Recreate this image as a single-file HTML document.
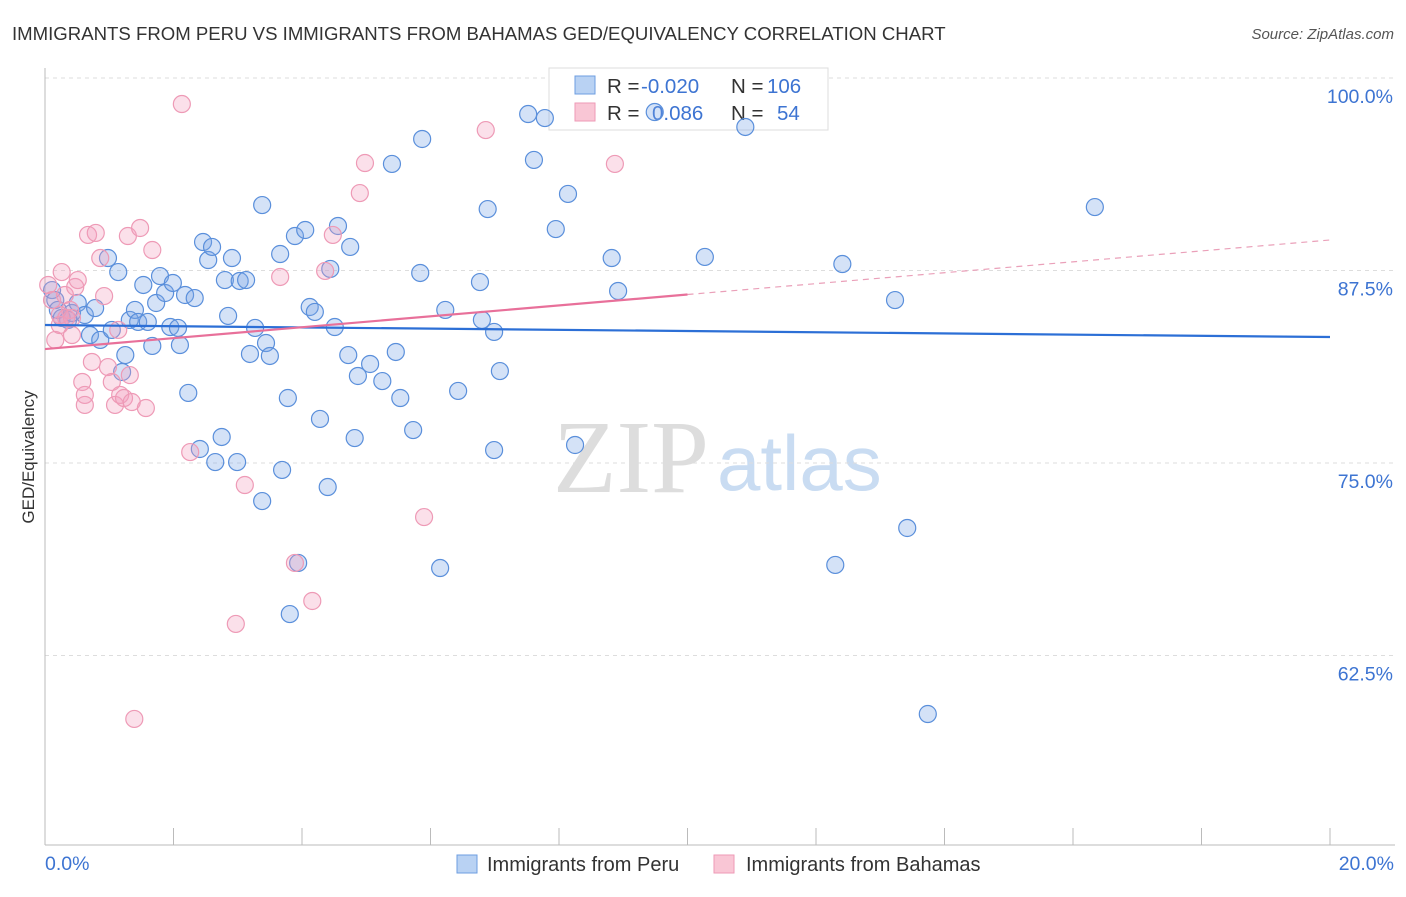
<!DOCTYPE html>
<html><head><meta charset="utf-8"><style>
body{margin:0;background:#fff;font-family:"Liberation Sans",sans-serif}
</style></head><body>
<svg id="chart" width="1406" height="892" xmlns="http://www.w3.org/2000/svg" font-family="Liberation Sans, sans-serif">
<text x="12" y="40" font-size="18.6" fill="#333">IMMIGRANTS FROM PERU VS IMMIGRANTS FROM BAHAMAS GED/EQUIVALENCY CORRELATION CHART</text>
<text x="1394" y="39" font-size="15" fill="#555" text-anchor="end" font-style="italic">Source: ZipAtlas.com</text>
<g>
<text x="553" y="492" font-size="104" fill="#ddd" font-family="Liberation Serif, serif">ZIP</text>
<text x="717" y="490" font-size="78" fill="#c9dcf2">atlas</text>
</g>
<g id="grid"></g>
<g id="axes"></g>
<g>
<rect x="549" y="68" width="279" height="62" fill="#fff" stroke="#ddd"/>
<rect x="575" y="76" width="20" height="18" fill="#b9d2f3" stroke="#6d9ee0"/>
<rect x="575" y="103" width="20" height="18" fill="#f9c6d5" stroke="#ee9ab6"/>
<text x="607" y="93" font-size="20.5" fill="#333">R = <tspan fill="#3d74d2" x="641">-0.020</tspan></text>
<text x="731" y="93" font-size="20.5" fill="#333">N = <tspan fill="#3d74d2" x="767">106</tspan></text>
<text x="607" y="120" font-size="20.5" fill="#333">R = <tspan fill="#3d74d2" x="652">0.086</tspan></text>
<text x="731" y="120" font-size="20.5" fill="#333">N = <tspan fill="#3d74d2" x="777">54</tspan></text>
</g>
<g id="marks"></g>
<text transform="translate(34,457) rotate(-90)" font-size="17" fill="#333" text-anchor="middle">GED/Equivalency</text>
<g>
<rect x="457" y="855" width="20" height="18" fill="#b9d2f3" stroke="#6d9ee0"/>
<text x="487" y="871" font-size="20" fill="#333">Immigrants from Peru</text>
<rect x="714" y="855" width="20" height="18" fill="#f9c6d5" stroke="#ee9ab6"/>
<text x="746" y="871" font-size="20" fill="#333">Immigrants from Bahamas</text>
</g>
</svg>
<script>
const yTicks=[100,87.5,75,62.5];
const yTickLabels=["100.0%","87.5%","75.0%","62.5%"];
const xTickLabels=["0.0%","20.0%"];
const peruX=[.11,.16,.20,.26,.36,.42,.51,.62,.70,.78,.86,.98,1.04,1.14,1.20,1.25,1.32,1.40,1.45,1.53,1.60,1.67,1.73,1.79,1.87,1.95,1.99,2.07,2.10,2.18,2.23,2.33,2.41,2.46,2.54,2.60,2.65,2.75,2.80,2.85,2.91,2.99,3.03,3.13,3.19,3.27,3.38,3.38,3.44,3.50,3.66,3.69,3.78,3.81,3.89,3.94,4.05,4.12,4.20,4.28,4.40,4.44,4.56,4.51,4.72,4.75,4.82,4.87,5.06,5.25,5.40,5.46,5.53,5.73,5.84,5.87,6.15,6.23,6.43,6.77,6.80,6.89,6.99,6.99,7.08,7.52,7.61,7.78,7.95,8.14,8.25,8.82,8.92,9.49,10.27,10.90,12.30,12.41,13.23,13.42,13.74,16.34];
const peruY=[86.23,85.58,84.94,84.42,84.29,84.74,85.39,84.61,83.31,85.06,82.99,88.31,83.64,87.40,80.91,82.01,84.29,84.94,84.16,86.56,84.16,82.60,85.39,87.14,86.04,83.83,86.69,83.77,82.66,85.91,79.55,85.71,75.91,89.35,88.18,89.03,75.06,76.69,86.88,84.55,88.31,75.06,86.82,86.88,82.08,83.77,72.53,91.75,82.79,81.95,88.57,74.55,79.22,65.19,89.74,68.51,90.13,85.13,84.81,77.86,73.44,87.60,90.39,83.83,82.01,89.03,76.62,80.65,81.43,80.32,94.42,82.21,79.22,77.14,87.34,96.04,68.18,84.94,79.68,86.75,84.29,91.49,75.84,83.51,80.97,97.66,94.68,97.40,90.19,92.47,76.17,88.31,86.17,97.79,88.38,96.82,68.38,87.92,85.58,70.78,58.70,91.62];
const bahX=[.05,.11,.16,.23,.26,.31,.39,.42,.47,.51,.58,.62,.62,.67,.73,.79,.86,.92,.98,1.04,1.09,1.14,1.17,1.23,1.29,1.32,1.35,1.48,1.57,1.67,2.13,2.26,2.97,3.11,3.66,3.89,4.16,4.36,4.48,4.90,4.98,5.90,6.86,8.87,1.39,.23,.33,.42];
const bahY=[86.56,85.58,82.99,83.96,87.40,85.91,84.94,83.31,86.43,86.88,80.26,79.42,78.77,89.81,81.56,89.94,88.31,85.84,81.23,80.26,78.77,83.64,79.42,79.22,89.74,80.71,78.96,90.26,78.57,88.83,98.31,75.71,64.55,73.57,87.08,68.51,66.04,87.47,89.81,92.53,94.48,71.49,96.62,94.42,58.38,84.61,84.42,84.42];
const peruTrend=[83.96,83.18];
const bahTrend=[82.40,89.48];
const bahSolidEnd=10;
const NS="http://www.w3.org/2000/svg";
const X=v=>45+v/20*1285;
const Y=v=>78+(100-v)/12.5*192.5;
function mk(tag,attrs,parent){const e=document.createElementNS(NS,tag);for(const k in attrs)e.setAttribute(k,attrs[k]);document.getElementById(parent).appendChild(e);return e;}
yTicks.forEach((t,i)=>{
 const g=mk('line',{x1:45,x2:1395,y1:Y(t),y2:Y(t),stroke:'#ddd','stroke-dasharray':'4,4'},'grid');
 
 
 const l=mk('text',{x:1393,y:Y(t)+25,'text-anchor':'end','font-size':19.5,fill:'#3d74d2'},'axes');
 l.textContent=yTickLabels[i];
 
 
});
const ya=mk('line',{x1:45,x2:45,y1:68,y2:845,stroke:'#bbb'},'axes');


const xa=mk('line',{x1:45,x2:1395,y1:845,y2:845,stroke:'#bbb'},'axes');


for(let i=0;i<=20;i+=2){
 const t=mk('line',{x1:X(i),x2:X(i),y1:828,y2:845,stroke:'#bbb'},'axes');
 
 
}
[[0,'start',45],[20,'end',1394]].forEach((d,i)=>{
 const l=mk('text',{x:d[2],y:870,'text-anchor':d[1],'font-size':19.5,fill:'#3d74d2'},'axes');
 l.textContent=xTickLabels[i];
 
 
});
peruX.forEach((x,i)=>{
 const c=mk('circle',{cx:X(x),cy:Y(peruY[i]),r:8.5,fill:'rgba(120,165,230,0.32)',stroke:'#5a8fdb','stroke-width':1.2},'marks');
 
 
});
bahX.forEach((x,i)=>{
 const c=mk('circle',{cx:X(x),cy:Y(bahY[i]),r:8.5,fill:'rgba(244,160,190,0.32)',stroke:'#ee9ab6','stroke-width':1.2},'marks');
 
 
});
const pt=mk('line',{x1:X(0),y1:Y(peruTrend[0]),x2:X(20),y2:Y(peruTrend[1]),stroke:'#2c6fd6','stroke-width':2.2},'marks');


const bm=bahTrend[0]+(bahTrend[1]-bahTrend[0])*bahSolidEnd/20;
const bt=mk('line',{x1:X(0),y1:Y(bahTrend[0]),x2:X(bahSolidEnd),y2:Y(bm),stroke:'#e8709a','stroke-width':2.2},'marks');


const bd=mk('line',{x1:X(bahSolidEnd),y1:Y(bm),x2:X(20),y2:Y(bahTrend[1]),stroke:'#eaa0b9','stroke-width':1.2,'stroke-dasharray':'6,5'},'marks');


</script>
</body></html>
